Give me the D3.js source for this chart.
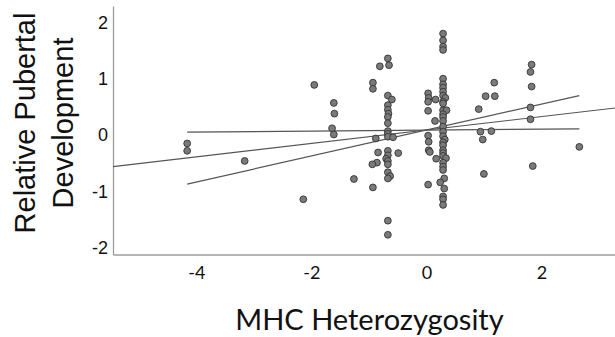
<!DOCTYPE html>
<html>
<head>
<meta charset="utf-8">
<script src="https://cdn.jsdelivr.net/npm/d3@7"></script>
<style>
  html, body { margin: 0; padding: 0; background: #fff; }
  svg { display: block; }
</style>
</head>
<body>
<div id="chart"></div>
<script>
/* ── Data ─────────────────────────────────────────────────────────── */

// MHC heterozygosity (x) and relative pubertal development (y), paired by index
const mhcHet = [
  -4.16, -4.16, -3.16, -2.14, -1.95, -1.61, -1.60, -1.64, -1.61, -1.26,
  -0.93, -0.93, -0.81, -0.88, -0.84, -0.86, -0.94, -0.93, -0.67, -0.65,
  -0.67, -0.60, -0.67, -0.67, -0.66, -0.67, -0.67, -0.67, -0.67, -0.67,
  -0.58, -0.67, -0.67, -0.70, -0.67, -0.67, -0.67, -0.63, -0.67, -0.67,
  -0.67, -0.49,
  0.03, 0.04, 0.16, 0.03, 0.03, 0.15, 0.03, 0.04, 0.04, 0.06,
  0.17, 0.03,
  0.29, 0.29, 0.29, 0.29, 0.29, 0.29, 0.29, 0.29, 0.29, 0.33,
  0.29, 0.29, 0.29, 0.35, 0.29, 0.29, 0.29, 0.29, 0.29, 0.29,
  0.32, 0.29, 0.29, 0.29, 0.29, 0.29, 0.34, 0.29, 0.29, 0.29,
  0.31, 0.24, 0.31, 0.29, 0.29, 0.29,
  0.91, 1.03, 1.18, 1.19, 1.83, 1.81, 1.83, 1.81, 1.81, 0.94,
  1.13, 0.98, 2.66, 1.85, 1.00
];

const pubDev = [
  -0.15, -0.28, -0.46, -1.14, 0.89, 0.57, 0.38, 0.12, 0.01, -0.78,
  0.93, 0.82, 1.22, -0.06, -0.31, -0.49, -0.52, -0.93, 1.36, 1.24,
  0.70, 0.63, 0.53, 0.45, 0.38, 0.32, 0.21, 0.07, 0.02, -0.03,
  -0.04, -0.28, -0.36, -0.42, -0.46, -0.52, -0.66, -0.73, -0.77, -1.52,
  -1.77, -0.32,
  0.74, 0.66, 0.63, 0.59, 0.43, 0.25, -0.01, -0.12, -0.27, -0.30,
  -0.42, -0.88,
  1.80, 1.68, 1.57, 1.51, 1.00, 0.90, 0.84, 0.77, 0.70, 0.66,
  0.59, 0.56, 0.44, 0.44, 0.37, 0.32, 0.25, 0.15, 0.06, -0.02,
  -0.08, -0.13, -0.18, -0.27, -0.32, -0.37, -0.41, -0.49, -0.56, -0.62,
  -0.77, -0.84, -0.95, -1.09, -1.14, -1.24,
  0.46, 0.69, 0.93, 0.69, 1.25, 1.12, 0.86, 0.49, 0.28, 0.06,
  0.07, -0.08, -0.21, -0.55, -0.69
];

// Fit lines: start / end x and y (overall fit runs past the plot edges)
const fitX0 = [-5.45, -4.16, -4.16];
const fitX1 = [3.28, 2.66, 2.66];
const fitY0 = [-0.56, 0.05, -0.87];
const fitY1 = [0.48, 0.11, 0.70];

const xTicks = [-4, -2, 0, 2];
const yTicks = [-2, -1, 0, 1, 2];

const xTitle = 'MHC Heterozygosity';
const yTitleLines = ['Relative Pubertal', 'Development'];

/* ── Layout ───────────────────────────────────────────────────────── */

const width = 615;
const height = 337;
const plot = { left: 113, right: 615, top: 6, bottom: 254.5 };

const x = d3.scaleLinear().domain([-5.45, 3.28]).range([plot.left, plot.right]);
const y = d3.scaleLinear().domain([-2.12, 2.29]).range([plot.bottom, plot.top]);

const svg = d3.select('#chart')
  .append('svg')
  .attr('width', width)
  .attr('height', height);

svg.append('defs').append('clipPath')
  .attr('id', 'plot-clip')
  .append('rect')
  .attr('x', plot.left)
  .attr('y', plot.top)
  .attr('width', plot.right - plot.left)
  .attr('height', plot.bottom - plot.top);

/* ── Axes ─────────────────────────────────────────────────────────── */

const xAxis = svg.append('g')
  .attr('transform', `translate(0,${plot.bottom})`)
  .call(d3.axisBottom(x).tickValues(xTicks).tickSize(0).tickPadding(12)
    .tickFormat(d => d));

const yAxis = svg.append('g')
  .attr('transform', `translate(${plot.left},0)`)
  .call(d3.axisLeft(y).tickValues(yTicks).tickSize(0).tickPadding(5)
    .tickFormat(d => d));

[xAxis, yAxis].forEach(a => {
  a.select('.domain').attr('stroke', '#9c9c9c').attr('stroke-width', 1.3);
});

xAxis.selectAll('text')
  .attr('fill', '#111')
  .attr('font-family', 'Lato, "Open Sans", sans-serif')
  .attr('font-size', '18px');

yAxis.selectAll('text')
  .attr('fill', '#111')
  .attr('font-family', '"Liberation Sans", Arial, sans-serif')
  .attr('font-size', '18px');

/* ── Fit lines ────────────────────────────────────────────────────── */

svg.append('g')
  .attr('clip-path', 'url(#plot-clip)')
  .selectAll('line')
  .data(d3.range(fitX0.length))
  .join('line')
  .attr('x1', i => x(fitX0[i]))
  .attr('y1', i => y(fitY0[i]))
  .attr('x2', i => x(fitX1[i]))
  .attr('y2', i => y(fitY1[i]))
  .attr('stroke', '#555')
  .attr('stroke-width', 1.2);

/* ── Points ───────────────────────────────────────────────────────── */

svg.append('g')
  .selectAll('circle')
  .data(d3.range(mhcHet.length))
  .join('circle')
  .attr('cx', i => x(mhcHet[i]))
  .attr('cy', i => y(pubDev[i]))
  .attr('r', 3.4)
  .attr('fill', '#7a7a7a')
  .attr('stroke', '#333')
  .attr('stroke-width', 0.9);

/* ── Titles ───────────────────────────────────────────────────────── */

svg.append('text')
  .attr('x', 369.5)
  .attr('y', 330)
  .attr('text-anchor', 'middle')
  .attr('font-family', 'Lato, "Open Sans", sans-serif')
  .attr('font-size', '29px')
  .attr('fill', '#111')
  .text(xTitle);

const yTitle = svg.append('text')
  .attr('transform', 'translate(0,123) rotate(-90)')
  .attr('text-anchor', 'middle')
  .attr('font-family', '"Liberation Sans", Arial, sans-serif')
  .attr('font-size', '29px')
  .attr('fill', '#111');

yTitle.selectAll('tspan')
  .data(yTitleLines)
  .join('tspan')
  .attr('x', 0)
  .attr('y', (d, i) => i === 0 ? 35 : 73)
  .text(d => d);
</script>
</body>
</html>
